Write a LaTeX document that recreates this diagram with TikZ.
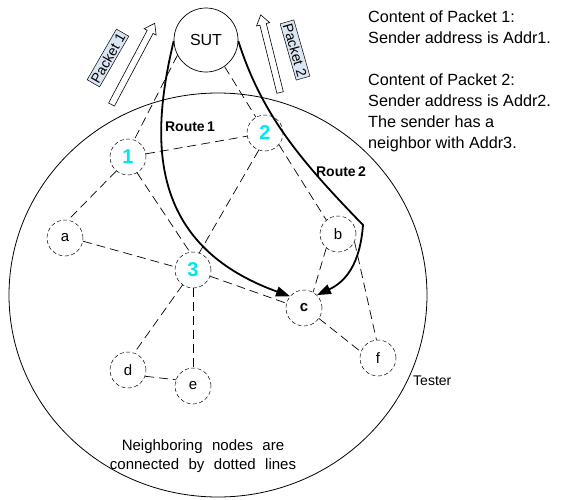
\documentclass[tikz,border=0pt]{standalone}
\usepackage{fontspec}
\setmainfont{Liberation Sans}
\usetikzlibrary{arrows.meta,shapes.arrows,shapes.geometric}
\definecolor{numcyan}{RGB}{0,230,240}
\definecolor{pktblue}{RGB}{220,230,242}
\begin{document}
\begin{tikzpicture}[x=1pt,y=-1pt,
  nb/.style={circle,draw,line width=0.5pt,dash pattern=on 4pt off 2.5pt,minimum size=36pt,inner sep=0pt,font=\fontsize{15}{18}\selectfont},
  num/.style={nb,text=numcyan,font=\fontsize{20}{24}\selectfont\bfseries},
  link/.style={draw,dash pattern=on 9pt off 5pt,line width=0.7pt},
  route/.style={line width=1.8pt,-{Triangle[length=14pt,width=10pt]}},
  packarrow/.style={single arrow,draw,line width=0.6pt,fill=white,inner xsep=0pt,inner ysep=3pt,single arrow head extend=3.5pt,single arrow tip angle=70},
  pktlabel/.style={draw,fill=pktblue,line width=0.5pt,inner sep=2pt,font=\fontsize{14}{16}\selectfont},
  plain/.style={inner sep=0pt,font=\fontsize{15}{18}\selectfont},
  rlabel/.style={inner sep=0pt,font=\fontsize{14}{16}\selectfont\bfseries}]
\useasboundingbox (0,0) rectangle (571,499);
% tester
\node[ellipse,draw,line width=0.8pt,minimum width=418pt,minimum height=404pt,inner sep=0pt] (tester) at (218,295) {};
\node[plain,anchor=west,font=\fontsize{14}{16}\selectfont] (testerlbl) at (413,381) {Tester};
% SUT
\node[circle,draw,line width=0.7pt,minimum size=64pt,inner sep=0pt,font=\fontsize{16}{18}\selectfont] (SUT) at (206,40) {SUT};
% nodes
\node[num] (n1) at (128,157) {1};
\node[num] (n2) at (265,133) {2};
\node[num] (n3) at (193,270) {3};
\node[nb] (a) at (65,238) {a};
\node[nb] (b) at (338,234) {b};
\node[nb,font=\fontsize{15}{18}\selectfont\bfseries] (c) at (304,308) {c};
\node[nb] (d) at (128,370) {d};
\node[nb] (e) at (193,386) {e};
\node[nb] (f) at (378,358) {f};
% links
\path[link] (SUT.208) -- (n1.70);
\path[link] (SUT.-55) -- (n2.120);
\path[link] (n1.230) -- (a.80);
\path[link] (n1.10) -- (n2.190);
\path[link] (n1.-60) -- (n3.100);
\path[link] (n2.250) -- (n3.70);
\path[link] (n2.-40) -- (b.130);
\path[link] (a.-10) -- (n3.170);
\path[link] (n3.-20) -- (c.165);
\path[link] (n3.235) -- (d.70);
\path[link] (n3.south) -- (e.north);
\path[link] (d.-20) -- (e.160);
\path[link] (b.230) -- (c.60);
\path[link] (c.-35) -- (f.160);
\path[link] (b.-25) -- (f.95);
% routes
\coordinate (bend) at (363,225);
\draw[route] (SUT.182) .. controls (150,140) and (148,245) .. (c.140);
\draw[route] (SUT.-2) .. controls (262,115) and (300,160) .. (bend) .. controls (360,265) and (345,282) .. (c.45);
\node[rlabel] (r1) at (190,127) {Route\,1};
\node[rlabel] (r2) at (341,172) {Route\,2};
% packets
\node[packarrow,minimum height=92pt,rotate=62] (pa1) at (132,66) {};
\node[pktlabel,rotate=60] (pl1) at (108,58) {Packet 1};
\node[packarrow,minimum height=80pt,rotate=104] (pa2) at (271,56) {};
\node[pktlabel,rotate=-74] (pl2) at (295,50) {Packet 2};
% texts
\node[plain,anchor=north west,align=left,font=\fontsize{16.2}{21}\selectfont] (content) at (368,11)
  {Content of Packet 1:\\Sender address is Addr1.\\[21pt]Content of Packet 2:\\Sender address is Addr2.\\The sender has a\\neighbor with Addr3.};
\node[plain,align=center,font=\fontsize{15}{19}\selectfont] (note) at (203,456)
  {\spaceskip=9.5pt Neighboring nodes are\\\spaceskip=9.5pt connected by dotted lines};
\end{tikzpicture}
\end{document}
